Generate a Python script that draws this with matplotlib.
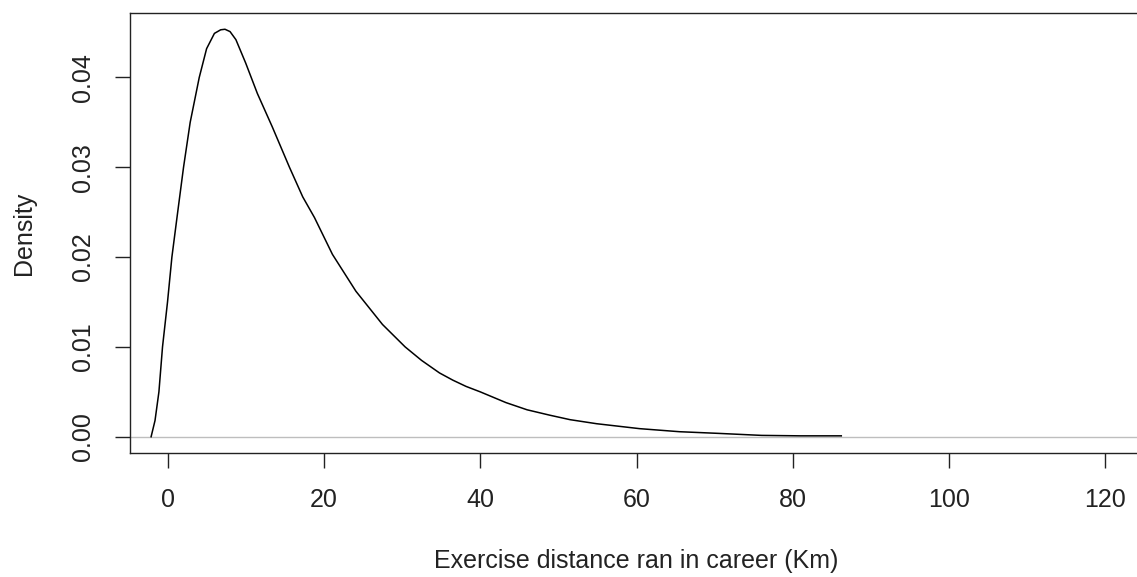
import matplotlib
matplotlib.use("Agg")
import matplotlib.pyplot as plt

plt.rcParams['font.family'] = ['Liberation Sans', 'DejaVu Sans']

# Density curve
dist_km = [-2.1, -1.6, -1.1, -0.64, 0.0, 0.56, 1.3, 2.05, 2.9, 4.06, 5.0, 6.0,
           6.8, 7.35, 8.0, 8.75, 10.0, 11.5, 13.4, 15.6, 17.3, 18.8, 21.1,
           24.1, 27.5, 30.4, 32.5, 34.8, 36.5, 38.2, 40.0, 43.3, 46.0, 48.9,
           51.5, 54.9, 60.4, 65.5, 70.6, 76.0, 81.0, 86.2]
density = [0.0, 0.0018, 0.005, 0.010, 0.015, 0.020, 0.025, 0.030, 0.035, 0.040,
           0.0432, 0.0449, 0.0453, 0.04536, 0.0451, 0.0442, 0.0416, 0.0382,
           0.0345, 0.0300, 0.0267, 0.0244, 0.0203, 0.0162, 0.0125, 0.0100,
           0.0085, 0.0071, 0.0063, 0.0056, 0.0050, 0.0038, 0.0030, 0.0024,
           0.0019, 0.00145, 0.0009, 0.00056, 0.00037, 0.00015, 0.0001, 0.0001]

x_ticks = [0, 20, 40, 60, 80, 100, 120]
y_ticks = [0.00, 0.01, 0.02, 0.03, 0.04]
y_tick_labels = ["0.00", "0.01", "0.02", "0.03", "0.04"]
x_label = "Exercise distance ran in career (Km)"
y_label = "Density"

W, H = 1137, 577
fig = plt.figure(figsize=(W / 100, H / 100), dpi=100)
ax = fig.add_axes([130 / W, (H - 453) / H, (1143 - 130) / W, (453 - 13) / H])

ax.axhline(0, color="#bebebe", lw=1.0, zorder=1)
ax.plot(dist_km, density, color="black", lw=1.1, zorder=2)

ax.set_xlim(-4.8, 124.8)
ax.set_ylim(-0.00181, 0.04717)

ax.set_xticks(x_ticks)
ax.set_xticklabels([str(t) for t in x_ticks])
ax.set_yticks(y_ticks)
ax.set_yticklabels(y_tick_labels, rotation=90, va="center")

for s in ax.spines.values():
    s.set_linewidth(1.0)
    s.set_color("#222222")

ax.tick_params(axis="both", length=11, width=1.0, color="#222222",
               labelsize=18, labelcolor="#222222")
ax.tick_params(axis="x", pad=14)
ax.tick_params(axis="y", pad=14)

fig.text(636 / W, (H - 568) / H, x_label, ha="center", va="baseline",
         fontsize=18, color="#222222")
fig.text(31 / W, (H - 233) / H, y_label, ha="center", va="baseline",
         rotation=90, rotation_mode="anchor", fontsize=18, color="#222222")

fig.savefig("out.png", dpi=100)
